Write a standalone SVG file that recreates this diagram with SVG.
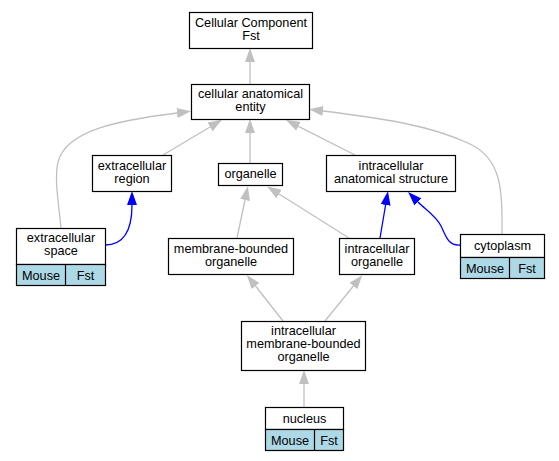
<svg xmlns="http://www.w3.org/2000/svg" width="559" height="461" viewBox="0 0 559 461">
<style>
.n{fill:#fff;stroke:#000;stroke-width:1.2}
.c{fill:#add8e6;stroke:#000;stroke-width:1.2}
.dv{stroke:#000;stroke-width:1.2}
text{font-family:"Liberation Sans",Arial,sans-serif;font-size:12.7px;text-anchor:middle;fill:#000}
.g{fill:none;stroke:#c0c0c0;stroke-width:1.3}
.b{fill:none;stroke:#0000ff;stroke-width:1.3}
</style>
<defs>
<marker id="ag" viewBox="0 0 14 10" refX="0" refY="5" markerWidth="14" markerHeight="10" markerUnits="userSpaceOnUse" orient="auto"><path d="M0,0 L14,5 L0,10 z" fill="#c0c0c0"/></marker>
<marker id="ab" viewBox="0 0 14 10" refX="0" refY="5" markerWidth="14" markerHeight="10" markerUnits="userSpaceOnUse" orient="auto"><path d="M0,0 L14,5 L0,10 z" fill="#0000ff"/></marker>
</defs>
<g id="edges">
<path class="g" d="M250,84 L250,62" marker-end="url(#ag)"/>
<path class="g" d="M163,155 L210,127" marker-end="url(#ag)"/>
<path class="g" d="M250,163 L250,133" marker-end="url(#ag)"/>
<path class="g" d="M355,155 L298.5,126.3" marker-end="url(#ag)"/>
<path class="g" d="M61,228 C59,205 54,180 58,162 C66,130 120,120 177,113" marker-end="url(#ag)"/>
<path class="g" d="M502,234 C502,200 505,160 470,144 C430,125 380,118 323,111" marker-end="url(#ag)"/>
<path class="g" d="M237,238 L245,200" marker-end="url(#ag)"/>
<path class="g" d="M349,238 L279,194" marker-end="url(#ag)"/>
<path class="b" d="M380,238 L385.6,205" marker-end="url(#ab)"/>
<path class="b" d="M460,245 C448,246 446,236 441,226 C436,216 426,210 418,202" marker-end="url(#ab)"/>
<path class="b" d="M105,245 C120,245 132,235 132,205" marker-end="url(#ab)"/>
<path class="g" d="M283,321 L255.5,286" marker-end="url(#ag)"/>
<path class="g" d="M325,321 L353.4,286" marker-end="url(#ag)"/>
<path class="g" d="M304,407 L304,384" marker-end="url(#ag)"/>
</g>
<g id="cc_fst"><rect class="n" x="189.5" y="12.5" width="123" height="36"/><text x="251" y="26.5">Cellular Component</text><text x="251" y="39.5">Fst</text></g>
<g id="cell_anat_entity"><rect class="n" x="191.5" y="84.5" width="118" height="35"/><text x="250.5" y="98">cellular anatomical</text><text x="250.5" y="111">entity</text></g>
<g id="extracellular_region"><rect class="n" x="92.5" y="155.5" width="79" height="36"/><text x="132" y="169.5">extracellular</text><text x="132" y="182.5">region</text></g>
<g id="organelle"><rect class="n" x="218.5" y="163.5" width="64" height="22"/><text x="250.5" y="178">organelle</text></g>
<g id="intracellular_anat_struct"><rect class="n" x="326.5" y="155.5" width="129" height="36"/><text x="391" y="169.5">intracellular</text><text x="391" y="182.5">anatomical structure</text></g>
<g id="extracellular_space"><rect class="n" x="16.5" y="228.5" width="89" height="36"/><rect class="c" x="16.5" y="264.5" width="89" height="21"/><line class="dv" x1="65.5" y1="264.5" x2="65.5" y2="285.5"/><text x="61" y="242">extracellular</text><text x="61" y="255">space</text><text x="41" y="279.5">Mouse</text><text x="85.5" y="279.5">Fst</text></g>
<g id="membrane_bounded_organelle"><rect class="n" x="168.5" y="238.5" width="125" height="36"/><text x="231" y="252.5">membrane-bounded</text><text x="231" y="265.5">organelle</text></g>
<g id="intracellular_organelle"><rect class="n" x="339.5" y="238.5" width="75" height="36"/><text x="377" y="252.5">intracellular</text><text x="377" y="265.5">organelle</text></g>
<g id="cytoplasm"><rect class="n" x="460.5" y="234.5" width="84" height="23"/><rect class="c" x="460.5" y="257.5" width="84" height="21"/><line class="dv" x1="509.5" y1="257.5" x2="509.5" y2="278.5"/><text x="502.5" y="250">cytoplasm</text><text x="485" y="272.5">Mouse</text><text x="527" y="272.5">Fst</text></g>
<g id="intracellular_mbo"><rect class="n" x="241.5" y="321.5" width="124" height="49"/><text x="303.5" y="335">intracellular</text><text x="303.5" y="348">membrane-bounded</text><text x="303.5" y="361">organelle</text></g>
<g id="nucleus"><rect class="n" x="265.5" y="407.5" width="78" height="22"/><rect class="c" x="265.5" y="429.5" width="78" height="21"/><line class="dv" x1="314.5" y1="429.5" x2="314.5" y2="450.5"/><text x="304.5" y="422.5">nucleus</text><text x="290" y="444.5">Mouse</text><text x="329" y="444.5">Fst</text></g>
</svg>
